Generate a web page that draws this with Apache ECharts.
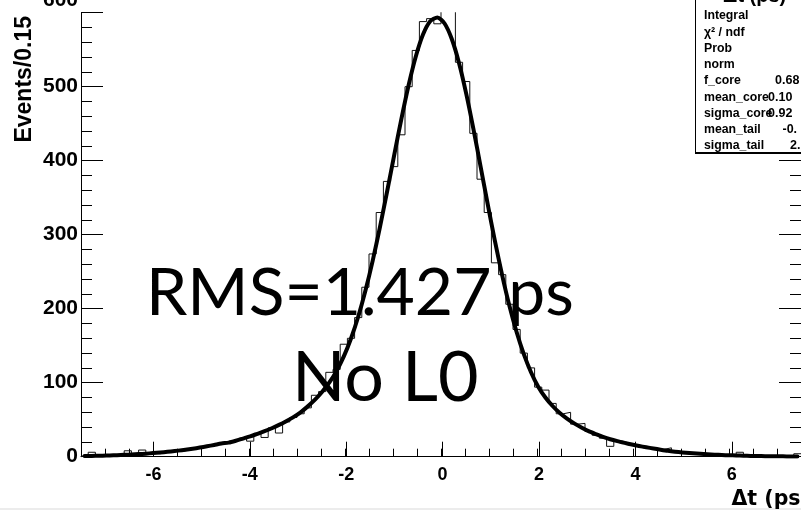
<!DOCTYPE html>
<html><head><meta charset="utf-8">
<script src="https://cdn.jsdelivr.net/npm/echarts@6/dist/echarts.min.js"></script>
<style>html,body{margin:0;padding:0;background:#fff}#c{width:801px;height:510px}</style>
</head><body><div id="c"></div>
<script>
// ---- data ----
const binStart = -7.5;
const binWidth = 0.15;
const counts = [
  1, 6, 1, 1, 2, 3, 8, 3, 9, 5,
  4, 6, 8, 7, 9, 11, 13, 14, 16, 18,
  20, 22, 25, 21, 31, 26, 39, 32, 47, 53,
  58, 66, 83, 88, 114, 118, 152, 160, 188, 229,
  274, 330, 372, 392, 435, 500, 549, 588, 592, 585,
  612, 605, 533, 507, 437, 375, 330, 262, 246, 206,
  172, 140, 120, 94, 90, 72, 58, 60, 44, 45,
  34, 29, 25, 14, 21, 19, 16, 15, 12, 11,
  10, 12, 7, 6, 5, 4, 3, 3, 2, 2,
  2, 6, 1, 2, 1, 1, 1, 0, 1, 4
];
const fitValues = [
  0.9, 1.1, 1.3, 1.6, 1.9, 2.3, 2.7, 3.2, 3.8, 4.5,
  5.3, 6.1, 7.1, 8.2, 9.4, 10.8, 12.3, 14.0, 15.9, 17.9,
  19.0, 21.5, 24.5, 27.5, 31.0, 34.5, 38.5, 43.0, 48.0, 53.5,
  60.0, 68.0, 77.0, 87.8, 100.3, 116.0, 135.5, 159.8, 189.1, 224.1,
  264.3, 309.3, 357.7, 407.6, 456.6, 502.0, 540.9, 570.5, 588.5, 593.6,
  585.4, 564.4, 532.1, 490.7, 443.1, 392.0, 340.6, 290.9, 245.0, 203.9,
  168.5, 138.6, 114.2, 94.6, 80.0, 68.5, 59.0, 51.5, 45.0, 39.5,
  34.5, 30.5, 26.8, 23.6, 21.0, 18.7, 16.5, 14.5, 12.7, 11.1,
  9.5, 8.0, 6.8, 5.8, 4.9, 4.2, 3.5, 3.0, 2.5, 2.1,
  1.8, 1.5, 1.2, 1.0, 0.85, 0.7, 0.57, 0.46, 0.37, 0.30
];
const xRange = [-7.5, 7.5];
const xLabelRange = [-6, 6];
const yRange = [0, 600];
const yTopLabel = '600';
const statNames = ['Integral', 'χ² / ndf', 'Prob', 'norm', 'f_core', 'mean_core', 'sigma_core', 'mean_tail', 'sigma_tail'];
const statValues = ['', '', '', '', '0.68', '0.10', '0.92', '-0.', '2.'];
const xTitle = 'Δt (ps)';
const yTitle = 'Events/0.15';
const bigText1 = 'RMS=1.427 ps';
const bigText2 = 'No L0';

// ---- layout ----
const statValueX = [0, 0, 0, 0, 775, 768, 768, 782.5, 790];
const FONT = '"Liberation Sans", Arial, sans-serif';

const histPts = [];
counts.forEach((c, i) => {
  const lo = binStart + i * binWidth;
  histPts.push([lo, c], [lo + binWidth, c]);
});
const fitPts = fitValues.map((v, i) => [binStart + (i + 0.5) * binWidth, v]);

const chart = echarts.init(document.getElementById('c'), null, {renderer: 'canvas'});

const lblY = {color: '#000', fontFamily: FONT, fontWeight: 'bold', fontSize: 21};
const graphics = [];
// stats box
graphics.push({type: 'rect', z: 100, shape: {x: 695.5, y: -5, width: 120, height: 157.5},
  style: {fill: '#fff', stroke: '#000', lineWidth: 1}});
graphics.push({type: 'line', z: 101, shape: {x1: 695, y1: 153, x2: 810, y2: 153},
  style: {stroke: '#000', lineWidth: 2}});
graphics.push({type: 'text', z: 102, x: 723, y: 6,
  style: {text: xTitle, font: 'bold 20px ' + FONT, fill: '#000', align: 'left', verticalAlign: 'bottom'}});
statNames.forEach((n, i) => {
  const yc = 16 + i * 16.25;
  graphics.push({type: 'text', z: 102, x: 704, y: yc,
    style: {text: n, font: 'bold 12.3px ' + FONT, fill: '#000', align: 'left', verticalAlign: 'middle'}});
  if (statValues[i]) {
    graphics.push({type: 'text', z: 103, x: statValueX[i], y: yc,
      style: {text: statValues[i], font: 'bold 12.5px ' + FONT, fill: '#000', align: 'left', verticalAlign: 'middle'}});
  }
});
// top y label, partly outside the picture like the reference
graphics.push({type: 'text', z: 50, x: 78, y: 0,
  style: {text: yTopLabel, font: 'bold 21px ' + FONT, fill: '#000', align: 'right', verticalAlign: 'middle'}});
// axis titles
graphics.push({type: 'text', z: 50, x: 731.5, y: 489,
  style: {text: xTitle, font: 'bold 20.5px "DejaVu Sans", sans-serif', fill: '#000', align: 'left', verticalAlign: 'top'}});
graphics.push({type: 'text', z: 50, x: 24.5, y: 16, rotation: Math.PI / 2,
  style: {text: yTitle, font: 'bold 23px ' + FONT, fill: '#000', align: 'right', verticalAlign: 'middle'}});
// big annotation
graphics.push({type: 'text', z: 60, x: 146, y: 294,
  style: {text: bigText1, font: '66px Lato, sans-serif', fill: '#000', align: 'left', verticalAlign: 'middle'}});
graphics.push({type: 'text', z: 60, x: 292, y: 378,
  style: {text: bigText2, font: '70px Lato, sans-serif', fill: '#000', align: 'left', verticalAlign: 'middle'}});
// bottom strip
graphics.push({type: 'rect', z: 1, shape: {x: 0, y: 508, width: 801, height: 2}, style: {fill: '#ececec'}});

const option = {
  animation: false,
  backgroundColor: '#fff',
  grid: [
    {left: 81, right: -3, top: 12.7, bottom: 53.3},
    {left: 153.4, right: 69.2, top: 12.7, bottom: 53.3}
  ],
  xAxis: [
    {gridIndex: 0, type: 'value', min: xRange[0], max: xRange[1], interval: 0.5,
      axisLine: {onZero: false, lineStyle: {color: '#000', width: 1}},
      axisTick: {inside: true, length: 8, lineStyle: {color: '#000', width: 1}},
      axisLabel: {show: false}, splitLine: {show: false}},
    {gridIndex: 1, type: 'value', min: xLabelRange[0], max: xLabelRange[1], interval: 2,
      axisLine: {show: false, onZero: false},
      axisTick: {inside: true, length: 15, lineStyle: {color: '#000', width: 1}},
      axisLabel: {color: '#000', fontFamily: FONT, fontWeight: 'bold', fontSize: 18, margin: 9},
      splitLine: {show: false}}
  ],
  yAxis: [
    {gridIndex: 0, type: 'value', min: yRange[0], max: yRange[1], interval: 100,
      axisLine: {show: true, onZero: false, lineStyle: {color: '#000', width: 1}},
      axisTick: {show: true, inside: true, length: 22, lineStyle: {color: '#000', width: 1}},
      minorTick: {show: true, splitNumber: 5, length: 11, lineStyle: {color: '#000', width: 1}},
      axisLabel: Object.assign({}, lblY, {margin: 3,
        formatter: v => v === yRange[1] ? '' : String(v)}),
      splitLine: {show: false}, minorSplitLine: {show: false}},
    {gridIndex: 0, type: 'value', position: 'right', min: yRange[0], max: yRange[1], interval: 100,
      axisLine: {show: true, onZero: false, lineStyle: {color: '#000', width: 1}},
      axisTick: {show: true, inside: true, length: 22, lineStyle: {color: '#000', width: 1}},
      minorTick: {show: true, splitNumber: 5, length: 11, lineStyle: {color: '#000', width: 1}},
      axisLabel: {show: false}, splitLine: {show: false}},
    {gridIndex: 1, type: 'value', min: yRange[0], max: yRange[1], show: false}
  ],
  series: [
    {type: 'line', xAxisIndex: 0, yAxisIndex: 0, data: histPts, symbol: 'none', clip: true,
      lineStyle: {color: '#111', width: 1}, z: 3, silent: true},
    {type: 'line', xAxisIndex: 0, yAxisIndex: 0, data: fitPts, symbol: 'none', clip: true, smooth: 0.25,
      lineStyle: {color: '#000', width: 4, cap: 'round', join: 'round'}, z: 4, silent: true}
  ],
  graphic: graphics
};
chart.setOption(option);
</script>
</body></html>
